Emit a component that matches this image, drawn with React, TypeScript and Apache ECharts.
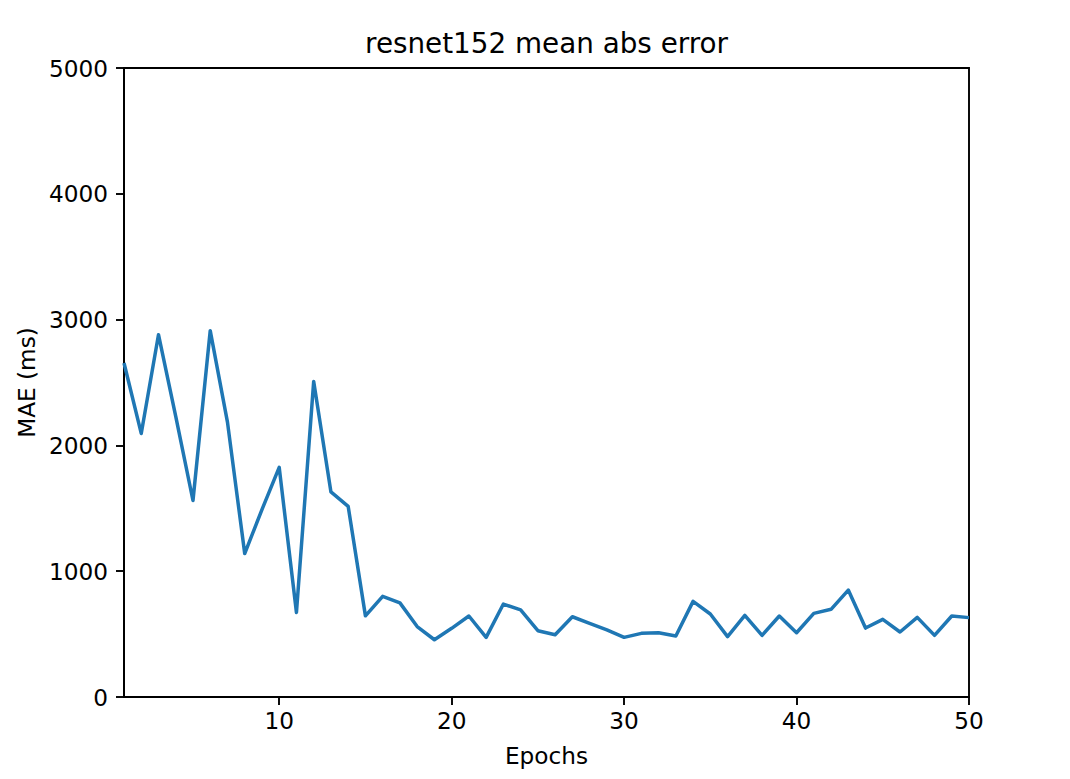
import React, { useEffect, useRef } from "react";
import * as echarts from "echarts";

const epochs = [
  1, 2, 3, 4, 5, 6, 7, 8, 9, 10, 11, 12, 13, 14, 15, 16, 17, 18, 19, 20, 21, 22, 23, 24, 25,
  26, 27, 28, 29, 30, 31, 32, 33, 34, 35, 36, 37, 38, 39, 40, 41, 42, 43, 44, 45, 46, 47, 48, 49, 50,
];
const maeValues = [
  2655, 2095, 2880, 2230, 1562, 2912, 2185, 1140, 1490, 1825, 672, 2508, 1630, 1515, 645, 800, 748,
  560, 455, 546, 644, 474, 739, 692, 527, 495, 638, 586, 533, 474, 506, 511, 485, 760, 660, 480, 649,
  490, 644, 511, 665, 697, 850, 548, 617, 517, 633, 490, 644, 631,
];
const xTicks = [10, 20, 30, 40, 50];
const titleText = "resnet152 mean abs error";
const xName = "Epochs";
const yName = "MAE (ms)";

const FONT = "DejaVu Sans";

export default function App() {
  const ref = useRef<HTMLDivElement>(null);
  useEffect(() => {
    if (!ref.current) return;
    const chart = echarts.init(ref.current, null, { renderer: "svg" });
    const data = epochs.map((e, i) => [e, maeValues[i]]);
    chart.setOption({
      animation: false,
      backgroundColor: "#ffffff",
      textStyle: { fontFamily: FONT },
      grid: {
        left: 124,
        right: 101,
        top: 68,
        bottom: 82,
        show: true,
        borderColor: "#000",
        borderWidth: 1.9,
        backgroundColor: "transparent",
      },
      graphic: [
        {
          type: "text",
          x: 546.5,
          y: 43,
          style: {
            text: titleText,
            fill: "#000",
            font: `27.8px "${FONT}"`,
            textAlign: "center",
            textVerticalAlign: "middle",
          },
        },
      ],
      xAxis: {
        type: "value",
        min: 1,
        max: 50,
        name: xName,
        nameLocation: "middle",
        nameGap: 47,
        nameTextStyle: { color: "#000", fontSize: 23.2, fontFamily: FONT },
        splitLine: { show: false },
        axisLine: { show: true, onZero: false, lineStyle: { color: "#000", width: 1.9 } },
        axisTick: {
          show: true,
          length: 8,
          lineStyle: { color: "#000", width: 1.9 },
          customValues: xTicks,
        },
        axisLabel: {
          color: "#000",
          fontSize: 23.2,
          fontFamily: FONT,
          margin: 12,
          customValues: xTicks,
          formatter: (v: number) => String(v),
        },
      },
      yAxis: {
        type: "value",
        min: 0,
        max: 5000,
        interval: 1000,
        name: yName,
        nameLocation: "middle",
        nameGap: 84,
        nameRotate: 90,
        nameTextStyle: { color: "#000", fontSize: 23.2, fontFamily: FONT },
        splitLine: { show: false },
        axisLine: { show: true, lineStyle: { color: "#000", width: 1.9 } },
        axisTick: { show: true, length: 8, lineStyle: { color: "#000", width: 1.9 } },
        axisLabel: {
          color: "#000",
          fontSize: 23.2,
          fontFamily: FONT,
          margin: 16,
          formatter: (v: number) => String(v),
        },
      },
      series: [
        {
          type: "line",
          data,
          symbol: "none",
          clip: true,
          lineStyle: { color: "#1f77b4", width: 3.5, join: "round", cap: "butt" },
        },
      ],
    });
    return () => chart.dispose();
  }, []);
  return (
    <div
      ref={ref}
      style={{ position: "fixed", left: 0, top: 0, width: 1070, height: 779, background: "#fff" }}
    />
  );
}
